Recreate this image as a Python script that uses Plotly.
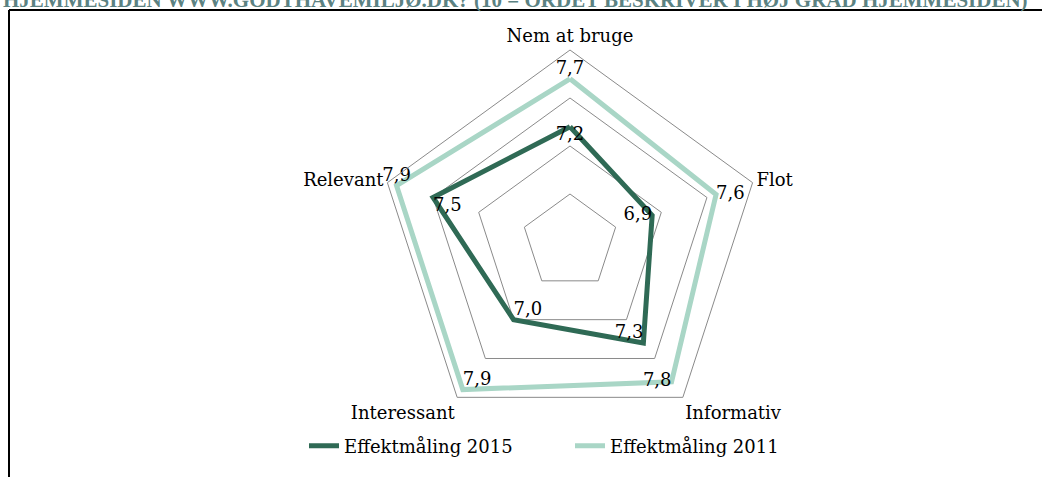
import plotly.graph_objects as go

categories = ["Nem at bruge", "Flot", "Informativ", "Interessant", "Relevant"]
values_2015 = [7.2, 6.9, 7.3, 7.0, 7.5]
values_2011 = [7.7, 7.6, 7.8, 7.9, 7.9]
series_names = ["Effektmåling 2015", "Effektmåling 2011"]
title_text = "HJEMMESIDEN WWW.GODTHAVEMILJØ.DK? (10 = ORDET BESKRIVER I HØJ GRAD HJEMMESIDEN)"

pos_2015 = ["bottom center", "middle left", "top left", "top right", "bottom right"]
pos_2011 = ["top center", "middle right", "middle left", "top right", "top center"]

W, H = 1042, 477
FONT = "DejaVu Serif"


def fmt(v):
    return f"{v:.1f}".replace(".", ",")


def closed(lst):
    return list(lst) + [lst[0]]


fig = go.Figure()
for name, vals, col, pos in [
    (series_names[0], values_2015, "#2f6a55", pos_2015),
    (series_names[1], values_2011, "#a9d6c6", pos_2011),
]:
    fig.add_trace(go.Scatterpolar(
        r=closed(vals),
        theta=closed(categories),
        mode="lines+text",
        name=name,
        text=[fmt(v) for v in vals] + [""],
        textposition=pos + ["middle center"],
        textfont=dict(family=FONT, size=18, color="#000000"),
        line=dict(color=col, width=5),
        hoverinfo="skip",
    ))

cx, cy, R = 570, 242, 192
fig.update_layout(
    width=W, height=H,
    margin=dict(l=0, r=0, t=0, b=0, autoexpand=False),
    paper_bgcolor="white",
    plot_bgcolor="white",
    font=dict(family=FONT, size=18, color="#000000"),
    polar=dict(
        domain=dict(x=[(cx - R) / W, (cx + R) / W], y=[(H - cy - R) / H, (H - cy + R) / H]),
        gridshape="linear",
        bgcolor="white",
        radialaxis=dict(range=[6, 8], tickvals=[6.5, 7, 7.5], showticklabels=False,
                        showline=False, ticks="", gridcolor="#8a8a8a", gridwidth=1),
        angularaxis=dict(rotation=90, direction="clockwise", showgrid=False,
                         showline=True, linecolor="#8a8a8a", linewidth=1, ticks="",
                         tickfont=dict(family=FONT, size=18, color="#000000")),
    ),
    showlegend=True,
    legend=dict(orientation="h", x=304 / W, xanchor="left", y=(H - 446) / H, yanchor="middle",
                font=dict(family=FONT, size=18, color="#000000"), bgcolor="rgba(0,0,0,0)",
                entrywidth=221, tracegroupgap=0),
)

# frame
fig.add_shape(type="line", xref="paper", yref="paper", x0=9 / W, x1=1.0, y0=1 - 10 / H, y1=1 - 10 / H,
              line=dict(color="black", width=2))
fig.add_shape(type="line", xref="paper", yref="paper", x0=9 / W, x1=9 / W, y0=1 - 10 / H, y1=0,
              line=dict(color="black", width=2))

fig.add_annotation(text="<b>" + title_text + "</b>", xref="paper", yref="paper",
                   x=515 / W, y=1.0, xanchor="center", yanchor="middle", showarrow=False,
                   font=dict(family="Liberation Serif", size=21, color="#5b8282"))

fig.write_html("out.html", config={"displayModeBar": False},
               post_script="document.body.style.margin='0';")
